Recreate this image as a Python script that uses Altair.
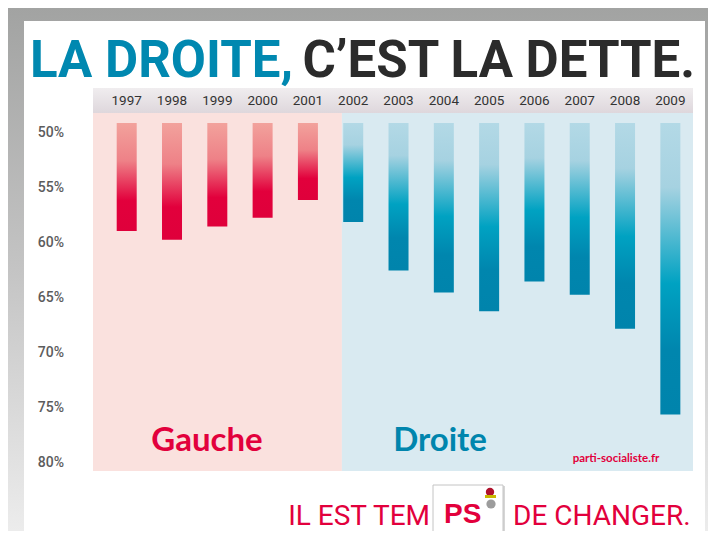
import altair as alt
import pandas as pd

# ---- data ----
years = [1997, 1998, 1999, 2000, 2001, 2002, 2003, 2004, 2005, 2006, 2007, 2008, 2009]
debt_pct = [58.9, 59.7, 58.5, 57.7, 56.1, 58.1, 62.5, 64.5, 66.2, 63.5, 64.7, 67.8, 75.6]
camps = ["Gauche"] * 5 + ["Droite"] * 8
y_ticks = [50, 55, 60, 65, 70, 75, 80]

# scale / layout constants
BAR_TOP = 49.1
HEADER_BOTTOM = 48.18
X_DOMAIN = [1996.256, 2009.5]
Y_DOMAIN = [45.909, 80.727]
SPLIT = 2001.75

W, H = 600, 383
PAD = {"left": 85, "top": 80, "right": 15, "bottom": 60}

COND = "Roboto, Liberation Sans, sans-serif"
RED = "#e2003c"
BLUE = "#0088b0"

df = pd.DataFrame({"year": years, "debt": debt_pct, "camp": camps})
df["top"] = BAR_TOP
ticks_df = pd.DataFrame({"v": y_ticks})
ticks_df["lab"] = [f"{v}%" for v in y_ticks]

xs = alt.Scale(domain=X_DOMAIN, nice=False, zero=False, padding=0)
ys = alt.Scale(domain=Y_DOMAIN, reverse=True, nice=False, zero=False, padding=0)
one = alt.Data(values=[{}])


def grad(stops):
    return alt.Gradient(
        gradient="linear",
        x1=0, x2=0, y1=0, y2=1,
        stops=[alt.GradientStop(color=c, offset=o) for o, c in stops],
    )


def deco_rect(x, x2, y, y2, **kw):
    return alt.Chart(one).mark_rect(**kw).encode(
        x=alt.value(x), x2=alt.value(x2), y=alt.value(y), y2=alt.value(y2)
    )


def label(txt, x, y, **kw):
    return alt.Chart(one).mark_text(**kw).encode(
        x=alt.value(x), y=alt.value(y), text=alt.value(txt)
    )


# frame + white card
frame = deco_rect(-85, 615, -80, 443,
                  fill=grad([(0, "#a2a3a2"), (0.5, "#c4c4c4"), (1, "#ececec")]))
card = deco_rect(-69, 612, -67, 443, fill="#ffffff")

# header band with years
header = deco_rect(0, W, 0, 25,
                   fill=grad([(0, "#f0edef"), (1, "#ded7dc")]))

# period backgrounds through the scales
pink_bg = alt.Chart(one).mark_rect(fill="#fae1de").encode(
    x=alt.X(datum=X_DOMAIN[0], type="quantitative", scale=xs, axis=None),
    x2=alt.X2(datum=SPLIT),
    y=alt.Y(datum=HEADER_BOTTOM, type="quantitative", scale=ys, axis=None),
    y2=alt.Y2(datum=Y_DOMAIN[1]),
)
blue_bg = alt.Chart(one).mark_rect(fill="#d9eaf1").encode(
    x=alt.X(datum=SPLIT, type="quantitative", scale=xs, axis=None),
    x2=alt.X2(datum=X_DOMAIN[1]),
    y=alt.Y(datum=HEADER_BOTTOM, type="quantitative", scale=ys, axis=None),
    y2=alt.Y2(datum=Y_DOMAIN[1]),
)

red_grad = grad([(0, "#f2a29c"), (0.35, "#ee8187"), (0.72, "#e2003c"), (1, "#df003b")])
blue_grad = grad([(0, "#b3d9e6"), (0.22, "#a6d2e1"), (0.55, "#00a2c2"), (0.78, "#0086ae"), (1, "#0084ac")])

bars_left = alt.Chart(df).transform_filter(alt.datum.camp == "Gauche").mark_bar(
    size=20, fill=red_grad, stroke=None
).encode(
    x=alt.X("year:Q", scale=xs, axis=None),
    y=alt.Y("debt:Q", scale=ys, axis=None),
    y2="top:Q",
)
bars_right = alt.Chart(df).transform_filter(alt.datum.camp == "Droite").mark_bar(
    size=20, fill=blue_grad, stroke=None
).encode(
    x=alt.X("year:Q", scale=xs, axis=None),
    y=alt.Y("debt:Q", scale=ys, axis=None),
    y2="top:Q",
)

# y tick labels through the y scale
y_labels = alt.Chart(ticks_df).mark_text(
    font=COND, fontSize=14, fontWeight=500, color="#5c5c5c",
    align="right", baseline="middle",
).encode(
    x=alt.value(-29),
    y=alt.Y("v:Q", scale=ys, axis=None),
    text="lab:N",
)

year_text = alt.Chart(df).mark_text(
    font=COND, fontSize=13.5, color="#333333", baseline="middle"
).encode(
    x=alt.X("year:Q", scale=xs, axis=None),
    y=alt.value(13),
    text="year:N",
)

# titles and annotations
t1 = label("LA DROITE,", -63, -11, font=COND, fontSize=51, fontWeight="bold",
           color=BLUE, align="left", baseline="alphabetic")
t2 = label("C\u2019EST LA DETTE.", 602, -11, font=COND, fontSize=51, fontWeight="bold",
           color="#2b2b2b", align="right", baseline="alphabetic")
gauche = label("Gauche", 114, 363, font="Lato, sans-serif", fontSize=33, fontWeight="bold",
               color=RED, align="center", baseline="alphabetic")
droite = label("Droite", 347, 363, font="Lato, sans-serif", fontSize=33, fontWeight="bold",
               color="#0085ad", align="center", baseline="alphabetic")
site = label("parti-socialiste.fr", 523, 374, font="Lato, sans-serif", fontSize=11.5,
             fontWeight="bold", color=RED, align="center", baseline="alphabetic")

s1 = label("IL EST TEM", 337, 437, font=COND, fontSize=28, color=RED,
           align="right", baseline="alphabetic")
s2 = label("DE CHANGER.", 420, 437, font=COND, fontSize=28, color=RED,
           align="left", baseline="alphabetic")
box_shadow = deco_rect(341, 412, 398, 449, fill="#d6d6d6")
box = deco_rect(340, 410, 397, 447, fill="#ffffff", stroke="#c4c4c4", strokeWidth=1)
ps = label("PS", 351, 435, font="Liberation Sans, sans-serif", fontSize=28,
           fontWeight="bold", color=RED, align="left", baseline="alphabetic")
rose = alt.Chart(one).mark_circle(color="#b0102c", opacity=1, size=70).encode(
    x=alt.value(397), y=alt.value(404))
leaf = deco_rect(392, 403, 407, 410, fill="#c9b800")
fist = alt.Chart(one).mark_circle(color="#9c9c9c", opacity=1, size=85).encode(
    x=alt.value(398), y=alt.value(416))

chart = alt.layer(
    frame, card, header, pink_bg, blue_bg, bars_left, bars_right, y_labels, year_text,
    t1, t2, gauche, droite, site, s1, s2, box_shadow, box, ps, rose, leaf, fist,
).properties(
    width=W, height=H,
    autosize=alt.AutoSizeParams(type="none"),
    padding=PAD,
    background="#ffffff",
).configure_view(stroke=None)

chart.save("out.html", embed_options={"renderer": "svg", "actions": False})
